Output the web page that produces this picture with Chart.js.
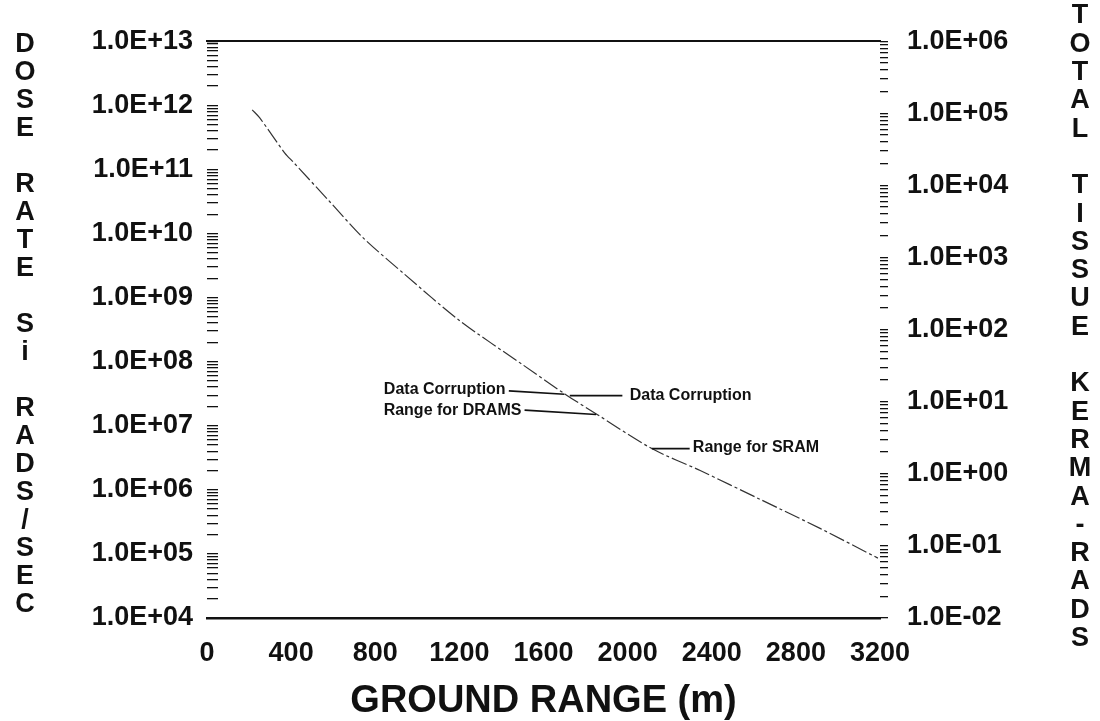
<!DOCTYPE html>
<html>
<head>
<meta charset="utf-8">
<script src="https://cdn.jsdelivr.net/npm/chart.js@4.4.1/dist/chart.umd.min.js"></script>
<style>
  html, body { margin: 0; padding: 0; background: #fff; }
  #wrap { width: 1100px; height: 721px; position: relative; }
</style>
</head>
<body>
<div id="wrap"><canvas id="c" width="1100" height="721"></canvas></div>
<script>
// ---------------- DATA ----------------
const groundRange = [215, 250, 370, 410, 585, 740, 940, 1200, 1500, 1710, 1855, 2115, 2345, 2630, 2915, 3190];
const doseRate    = [8.5e11, 6.4e11, 1.8e11, 1.3e11, 3.1e10, 8.7e9, 2.3e9, 4.4e8, 9.0e7, 3.0e7, 1.5e7, 4.4e6, 2.0e6, 7.1e5, 2.5e5, 8.6e4];

const xTickValues = [0, 400, 800, 1200, 1600, 2000, 2400, 2800, 3200];
const xTickLabels = ['0', '400', '800', '1200', '1600', '2000', '2400', '2800', '3200'];
const leftExponents = [4, 5, 6, 7, 8, 9, 10, 11, 12, 13];
const leftTickLabels = ['1.0E+04','1.0E+05','1.0E+06','1.0E+07','1.0E+08','1.0E+09','1.0E+10','1.0E+11','1.0E+12','1.0E+13'];
const rightExponents = [-2, -1, 0, 1, 2, 3, 4, 5, 6];
const rightTickLabels = ['1.0E-02','1.0E-01','1.0E+00','1.0E+01','1.0E+02','1.0E+03','1.0E+04','1.0E+05','1.0E+06'];

const leftTitle  = 'DOSE RATE Si RADS/SEC';
const rightTitle = 'TOTAL TISSUE KERMA-RADS';
const xTitle     = 'GROUND RANGE (m)';

// annotation labels (data coordinates: ground range m, dose rate)
const noteTexts = ['Data Corruption', 'Data Corruption', 'Range for DRAMS', 'Range for SRAM'];
const noteLineX1 = [1435, 1725, 1510, 2115];
const noteLineX2 = [1700, 1975, 1850, 2295];
const noteLineY1 = [3.5e7, 2.95e7, 1.75e7, 4.4e6];
const noteLineY2 = [3.1e7, 2.95e7, 1.5e7, 4.4e6];
const noteTextX  = [1420, 2010, 1495, 2310];
const noteTextY  = [3.6e7, 2.95e7, 1.75e7, 4.6e6];
const noteAlign  = ['right', 'left', 'right', 'left'];

// ---------------- HELPERS ----------------
function logTickBuilder(exps) {
  return function (scale) {
    const t = [];
    for (let i = 0; i < exps.length - 1; i++) {
      for (let k = 1; k < 10; k++) t.push({ value: k * Math.pow(10, exps[i]) });
    }
    t.push({ value: Math.pow(10, exps[exps.length - 1]) });
    scale.ticks = t;
  };
}
function logLabeler(exps, labels) {
  return function (v) {
    const e = Math.log10(v);
    const r = Math.round(e);
    if (Math.abs(e - r) < 1e-6) {
      const idx = exps.indexOf(r);
      return idx >= 0 ? labels[idx] : '';
    }
    return '';
  };
}

Chart.defaults.font.family = '"Liberation Sans", Arial, sans-serif';
Chart.defaults.color = '#111';

const textPlugin = {
  id: 'texts',
  afterDraw(chart) {
    const ctx = chart.ctx;
    const xs = chart.scales.x, ys = chart.scales.y;
    ctx.save();
    ctx.fillStyle = '#111';
    ctx.textAlign = 'center';
    ctx.textBaseline = 'middle';
    ctx.font = 'bold 27px "Liberation Sans"';
    [...leftTitle].forEach((ch, i) => { if (ch !== ' ') ctx.fillText(ch, 25, 45 + i * 28); });
    [...rightTitle].forEach((ch, i) => { if (ch !== ' ') ctx.fillText(ch, 1080, 16 + i * 28.3); });

    ctx.font = 'bold 16px "Liberation Sans"';
    ctx.strokeStyle = '#111';
    ctx.lineWidth = 1.6;
    for (let i = 0; i < noteTexts.length; i++) {
      ctx.beginPath();
      ctx.moveTo(xs.getPixelForValue(noteLineX1[i]), ys.getPixelForValue(noteLineY1[i]));
      ctx.lineTo(xs.getPixelForValue(noteLineX2[i]), ys.getPixelForValue(noteLineY2[i]));
      ctx.stroke();
      ctx.textAlign = noteAlign[i];
      ctx.fillText(noteTexts[i], xs.getPixelForValue(noteTextX[i]), ys.getPixelForValue(noteTextY[i]));
    }
    ctx.restore();
  }
};

new Chart(document.getElementById('c'), {
  type: 'line',
  data: {
    datasets: [{
      data: groundRange.map((x, i) => ({ x: x, y: doseRate[i] })),
      borderColor: '#333',
      borderWidth: 1.2,
      borderDash: [16, 3, 3, 3],
      pointRadius: 0,
      tension: 0.3,
      fill: false,
      yAxisID: 'y',
      xAxisID: 'x'
    }]
  },
  options: {
    responsive: false,
    animation: false,
    layout: { padding: 0 },
    plugins: { legend: { display: false }, tooltip: { enabled: false } },
    scales: {
      x: {
        type: 'linear', position: 'bottom', min: 0, max: 3200,
        afterBuildTicks: (s) => { s.ticks = xTickValues.map(v => ({ value: v })); },
        afterFit: (s) => { s.height = 103; },
        grid: { display: false, drawTicks: false },
        border: { display: true, color: '#111', width: 2.5 },
        ticks: {
          autoSkip: false, maxRotation: 0, padding: 19, color: '#111',
          font: { size: 27, weight: 'bold' },
          callback: (v) => { const i = xTickValues.indexOf(v); return i >= 0 ? xTickLabels[i] : ''; }
        },
        title: { display: true, text: xTitle, color: '#111', font: { size: 38, weight: 'bold', lineHeight: 1 }, padding: { top: 0, bottom: 0 } }
      },
      x2: {
        type: 'linear', position: 'top', min: 0, max: 3200,
        afterFit: (s) => { s.height = 30; },
        grid: { display: false, drawTicks: false },
        border: { display: true, color: '#111', width: 2 },
        ticks: { display: false }
      },
      y: {
        type: 'logarithmic', position: 'left', min: 1e4, max: 1e13,
        afterBuildTicks: logTickBuilder(leftExponents),
        afterFit: (s) => { s.width = 207; },
        grid: { display: true, drawOnChartArea: false, drawTicks: true, tickLength: -11, color: '#111', lineWidth: 1.3 },
        border: { display: false },
        ticks: { autoSkip: false, maxRotation: 0, padding: 25, color: '#111', font: { size: 27, weight: 'bold' }, callback: logLabeler(leftExponents, leftTickLabels) }
      },
      y2: {
        type: 'logarithmic', position: 'right', min: 1e-2, max: 1e6,
        afterBuildTicks: logTickBuilder(rightExponents),
        afterFit: (s) => { s.width = 220; },
        grid: { display: true, drawOnChartArea: false, drawTicks: true, tickLength: 8, color: '#111', lineWidth: 1.3 },
        border: { display: false },
        ticks: { autoSkip: false, maxRotation: 0, padding: 19, color: '#111', font: { size: 27, weight: 'bold' }, callback: logLabeler(rightExponents, rightTickLabels) }
      }
    }
  },
  plugins: [textPlugin]
});
</script>
</body>
</html>
